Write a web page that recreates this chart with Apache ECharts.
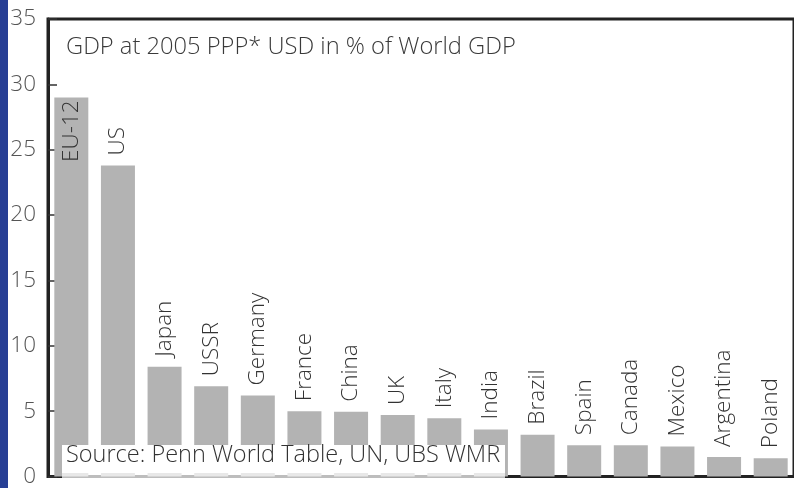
<!DOCTYPE html>
<html>
<head>
<meta charset="utf-8">
<script src="https://cdn.jsdelivr.net/npm/echarts@6/dist/echarts.min.js"></script>
<style>
html,body{margin:0;padding:0;background:#fff;}
#chart{width:794px;height:488px;}
</style>
</head>
<body>
<div id="chart"></div>
<script>
const categories = ['EU-12','US','Japan','USSR','Germany','France','China','UK','Italy','India','Brazil','Spain','Canada','Mexico','Argentina','Poland'];
const gdpShare = [29.0, 23.8, 8.4, 6.9, 6.2, 5.0, 4.95, 4.7, 4.45, 3.6, 3.2, 2.4, 2.4, 2.3, 1.5, 1.4];
const yTicks = [0, 5, 10, 15, 20, 25, 30, 35];
const titleText = 'GDP at 2005 PPP* USD in % of World GDP';
const sourceText = 'Source: Penn World Table, UN, UBS WMR';

const FONT = '"Open Sans", "Noto Sans", sans-serif';
const FS = 22.5;
const chart = echarts.init(document.getElementById('chart'), null, {renderer:'canvas'});

const seriesData = gdpShare.map((v, i) => {
  const item = { value: v };
  if (i === 0) {
    item.label = { position: 'insideTop', align: 'right', distance: 3 };
  }
  return item;
});

chart.setOption({
  animation: false,
  backgroundColor: '#fff',
  grid: {
    left: 48, top: 19, width: 755, bottom: 6,
    show: true, borderColor: '#222', borderWidth: 3, backgroundColor: 'transparent'
  },
  xAxis: {
    type: 'category',
    data: categories,
    axisLine: { show: false },
    axisTick: { show: false },
    axisLabel: { show: false }
  },
  yAxis: {
    type: 'value',
    min: yTicks[0], max: yTicks[yTicks.length - 1], interval: 5,
    axisLine: { show: true, lineStyle: { color: '#222', width: 3 } },
    axisTick: { show: true, inside: true, length: 9, lineStyle: { color: '#333', width: 1.5 } },
    splitLine: { show: false },
    axisLabel: { color: '#555', fontSize: FS, fontWeight: 300, fontFamily: FONT, margin: 12 }
  },
  series: [{
    type: 'bar',
    data: seriesData,
    barWidth: 34,
    itemStyle: { color: '#b3b3b3' },
    label: {
      show: true,
      formatter: p => categories[p.dataIndex],
      position: 'top',
      rotate: 90,
      align: 'left',
      verticalAlign: 'middle',
      distance: 10,
      color: '#333',
      fontSize: FS,
      fontWeight: 300,
      fontFamily: FONT
    }
  }],
  graphic: [
    { type: 'rect', shape: { x: 0, y: 0, width: 8, height: 488 }, style: { fill: '#273f95' }, z: 100 },
    { type: 'text', left: 66, top: 35, style: { text: titleText, fill: '#3a3a3a', font: '300 23.7px ' + FONT }, z: 100 },
    { type: 'rect', shape: { x: 62, y: 445, width: 443, height: 28 }, style: { fill: '#fff' }, z: 90 },
    { type: 'rect', shape: { x: 62, y: 473, width: 443, height: 8 }, style: { fill: 'rgba(255,255,255,0.7)' }, z: 90 },
    { type: 'text', left: 66, top: 443, style: { text: sourceText, fill: '#333', font: '300 23.5px ' + FONT }, z: 100 }
  ]
});
</script>
</body>
</html>
